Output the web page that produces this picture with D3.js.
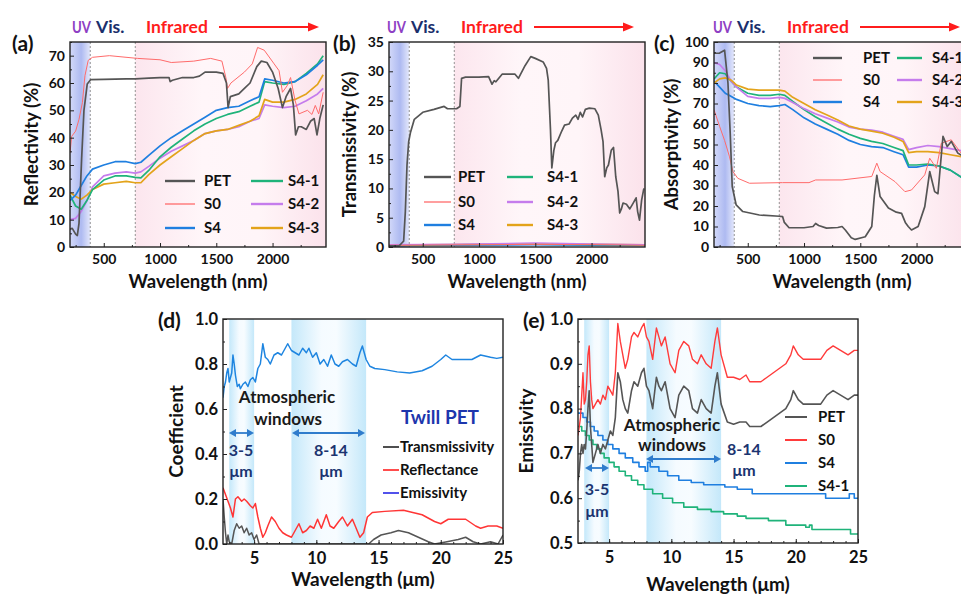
<!DOCTYPE html>
<html>
<head>
<meta charset="utf-8">
<script src="https://cdn.jsdelivr.net/npm/d3@7"></script>
<style>
  body { margin: 0; background: #fff; }
  svg { font-family: Lato, "Open Sans", sans-serif; font-weight: bold; }
</style>
</head>
<body>
<svg id="fig"></svg>
<script>
// ---- data: panels (a)-(c), wavelength in nm ----
const nmGrid = [200,250,300,350,400,500,600,700,780,830,900,1000,1100,1200,1300,1400,1500,1600,1700,1800,1880,1930,2000,2100,2200,2300,2400,2450];

const reflPET = [[200,6.5],[220,6.8],[250,4.7],[265,4.2],[280,8.6],[303,32],[324,50],[353,59.6],[383,61.2],[500,61.3],[700,61.5],[780,61.5],[900,61.8],[1000,62],[1080,62],[1090,60.5],[1110,61],[1200,62],[1300,62],[1350,62.5],[1400,64],[1500,64],[1560,63.5],[1590,60],[1605,51],[1625,55],[1700,56],[1750,58],[1800,60],[1860,66],[1900,68],[1950,67.5],[2000,64],[2050,58],[2088,51],[2120,55],[2160,58],[2185,52],[2205,41],[2230,44],[2255,44],[2300,43],[2337,46],[2370,47],[2395,41],[2420,47],[2450,52]];
const reflS0 = [[200,34.4],[215,40.5],[250,42.4],[280,46.7],[310,52.8],[333,62.7],[362,68.3],[400,69.4],[550,70],[800,69],[1000,68.5],[1100,67.5],[1300,68],[1450,69],[1550,68],[1585,62],[1600,58],[1630,60],[1750,64],[1820,67],[1867,73],[1926,72],[2014,67],[2058,64.5],[2088,56.6],[2130,59],[2160,62],[2200,53.6],[2235,48.7],[2310,50],[2350,48.5],[2380,51.8],[2410,48.7],[2450,56.6]];
const reflS4 = [17,19,22.5,26,28.5,30,31.2,31.2,30.5,31,33.5,37,40,42.5,45,47.5,50,51,51.5,53.5,55,61.5,61,60,60.5,63,66.5,68.5];
const reflS41 = [19,15,13.8,17,21,24.5,26,26,25.5,25.3,28,33,36.5,39.5,42.5,45,47,48.5,49.5,51.5,53,60.5,60,59.5,60.5,63.5,67,70];
const reflS42 = [10,10.5,13,17,22,26,27,27.5,27,27.5,29.5,32.5,35,37,39,41.5,42.5,43,44,46,47,52,51.5,51,51.5,53.5,56,58];
const reflS43 = [20,18.5,17.5,19,21,23,23.5,24,23.5,23.5,26.5,30,33,36,39,41.5,42.5,43,44.5,46,48,54,53,53,54,56,59.5,63];

const transPET = [[200,0.2],[290,0.2],[310,0.6],[330,1],[345,6],[360,14],[375,18],[390,19.5],[425,21.8],[500,23],[600,23.5],[690,24],[720,23.6],[800,23.6],[830,24],[845,28.8],[880,29],[1000,29],[1085,29.1],[1115,27.8],[1135,28.4],[1150,28.2],[1205,29.5],[1320,29.5],[1350,28.8],[1410,31],[1460,32.5],[1500,32.2],[1570,31.6],[1600,30.5],[1615,28.5],[1635,20],[1647,13.5],[1665,16.5],[1680,17.8],[1700,18.2],[1735,19.8],[1760,20.8],[1800,21],[1830,22],[1860,22.5],[1880,21.8],[1900,23],[1920,22.2],[1945,23.5],[1980,23.7],[2030,23.6],[2060,22.5],[2085,20],[2102,18],[2117,12],[2135,13.5],[2150,14],[2175,16.5],[2195,17],[2215,12],[2235,9.5],[2250,5.8],[2265,6.5],[2280,7.5],[2310,7.3],[2340,6.5],[2370,7.5],[2396,8.4],[2410,6],[2426,4.6],[2445,8],[2465,10]];
const transS0 = [[200,0.3],[800,0.35],[1500,0.45],[2000,0.4],[2475,0.3]];
const transS4 = [[200,0.2],[800,0.3],[1500,0.35],[2000,0.3],[2475,0.25]];
const transS41 = [[200,0.3],[800,0.4],[1500,0.45],[2000,0.4],[2475,0.3]];
const transS42 = [[200,0.4],[800,0.5],[1500,0.7],[2000,0.55],[2475,0.4]];
const transS43 = [[200,0.35],[800,0.45],[1500,0.55],[2000,0.5],[2475,0.4]];

const absPET = [[200,94.5],[250,94.6],[294,96],[324,80],[344,55.5],[362,29.5],[397,20.5],[456,17.3],[603,15.6],[780,15],[810,14.8],[825,12],[867,9.4],[1000,9.4],[1080,10],[1103,11.5],[1130,10.5],[1200,9.2],[1300,9.5],[1338,10],[1367,8.3],[1420,4.5],[1455,3.7],[1544,5],[1602,10],[1625,25],[1647,35],[1676,24.6],[1750,19],[1820,17],[1867,16.4],[1900,12],[1926,10],[1955,8.3],[2014,10],[2073,19.7],[2117,36.8],[2161,27],[2190,26],[2235,54],[2273,49],[2308,51.5],[2367,45.8],[2450,43]];
const absS0 = [[200,67],[250,58.8],[294,52],[338,44],[368,36.8],[412,33.5],[515,31.1],[809,31.4],[1044,31.4],[1103,32.7],[1338,32.7],[1602,34.4],[1647,40.9],[1676,36.8],[1808,31.9],[1897,27],[1955,27.8],[2073,35.2],[2117,43.3],[2176,38.4],[2220,50.6],[2308,52.3],[2396,45.8],[2450,43]];
const absS4 = [81,78,75,73.5,72,70,69,68.5,69,69.5,67,63,60,57.5,55,52,50,49,48.5,46.5,45,39,39,40,39.5,37.5,34,31];
const absS41 = [82,85,84.5,81,78,75,74,74,74.5,74,71,67,63.5,60.5,57.5,55,53,51.5,50.5,48.5,47,40,40,40.5,39.5,37.5,34,30];
const absS42 = [90,89,86,81,78,73.5,72.5,72.5,73,72.5,70.5,67.5,65,63,61,58.5,57.5,57,56,54,52.5,47.5,48.5,49.5,49,48,47,46];
const absS43 = [80,82,82.5,81.5,79,77,76.5,76.5,76.5,76,73,70,67,64.5,62,59,57.5,56.5,55.5,53.5,51.5,46,46.5,46.5,46,45,44,42];

// ---- data: panel (d), wavelength in um ----
const twillEmis = [[2.5,0.65],[2.6,0.70],[2.7,0.72],[2.8,0.76],[2.9,0.78],[3.0,0.72],[3.1,0.74],[3.2,0.76],[3.3,0.84],[3.4,0.80],[3.5,0.75],[3.65,0.70],[3.8,0.71],[3.9,0.69],[4.1,0.71],[4.3,0.72],[4.5,0.70],[4.7,0.73],[4.9,0.74],[5.1,0.72],[5.3,0.78],[5.5,0.80],[5.7,0.89],[5.9,0.83],[6.1,0.82],[6.3,0.80],[6.6,0.84],[6.9,0.85],[7.2,0.84],[7.5,0.87],[7.7,0.89],[8.0,0.86],[8.3,0.85],[8.6,0.84],[8.9,0.87],[9.2,0.85],[9.4,0.87],[9.7,0.83],[10.0,0.85],[10.3,0.80],[10.6,0.82],[10.9,0.79],[11.2,0.84],[11.5,0.80],[11.8,0.79],[12.1,0.81],[12.5,0.82],[12.9,0.80],[13.2,0.79],[13.5,0.85],[13.7,0.88],[14.0,0.82],[14.3,0.79],[14.7,0.78],[15.5,0.775],[16.5,0.765],[17.5,0.76],[18.5,0.77],[19.3,0.79],[20.0,0.82],[20.4,0.84],[20.9,0.82],[22.5,0.82],[23.2,0.84],[24.0,0.83],[24.5,0.825],[25,0.83]];
const twillRefl = [[2.5,0.25],[2.7,0.22],[2.9,0.19],[3.1,0.16],[3.3,0.12],[3.5,0.20],[3.7,0.21],[4.0,0.19],[4.2,0.20],[4.4,0.19],[4.7,0.17],[4.9,0.16],[5.1,0.18],[5.3,0.12],[5.5,0.07],[5.7,0.03],[5.9,0.05],[6.1,0.08],[6.4,0.12],[6.7,0.10],[7.0,0.07],[7.3,0.05],[7.6,0.04],[8.0,0.03],[8.3,0.06],[8.6,0.09],[8.9,0.05],[9.2,0.06],[9.5,0.08],[9.8,0.07],[10.1,0.11],[10.4,0.07],[10.8,0.13],[11.1,0.08],[11.4,0.07],[11.8,0.10],[12.1,0.12],[12.5,0.08],[12.9,0.11],[13.2,0.07],[13.5,0.03],[13.8,0.05],[14.1,0.12],[14.5,0.14],[15.5,0.145],[17.0,0.15],[18.5,0.13],[19.5,0.10],[20.0,0.09],[20.6,0.11],[22.0,0.11],[22.8,0.08],[23.2,0.07],[23.8,0.08],[24.5,0.08],[25,0.07]];
const twillTrans = [[2.5,0.20],[2.6,0.12],[2.7,0.05],[2.8,0.0],[2.9,0.04],[3.0,0.01],[3.2,0.0],[3.4,0.06],[3.6,0.09],[3.8,0.07],[4.0,0.08],[4.2,0.05],[4.4,0.07],[4.6,0.04],[4.8,0.05],[5.0,0.02],[5.2,0.04],[5.4,0.0],[14.2,0.0],[14.6,0.02],[15.2,0.04],[16.0,0.05],[16.6,0.06],[17.4,0.05],[18.2,0.03],[19.0,0.01],[19.5,0.0],[20.5,0.01],[21.4,0.02],[22.0,0.03],[22.6,0.01],[23.2,0.0],[24.0,0.01],[24.6,0.0],[25,0.04]];

// ---- data: panel (e) ----
const emisPET = [[2.5,0.64],[2.6,0.66],[2.7,0.70],[2.8,0.72],[2.9,0.70],[3.0,0.72],[3.1,0.71],[3.2,0.75],[3.3,0.80],[3.4,0.84],[3.5,0.76],[3.6,0.72],[3.7,0.68],[3.9,0.70],[4.1,0.72],[4.3,0.70],[4.5,0.72],[4.7,0.71],[4.9,0.73],[5.1,0.75],[5.3,0.74],[5.5,0.78],[5.7,0.88],[5.9,0.86],[6.1,0.82],[6.3,0.80],[6.5,0.79],[6.8,0.84],[7.0,0.86],[7.3,0.85],[7.6,0.88],[7.8,0.89],[8.0,0.85],[8.2,0.84],[8.5,0.80],[8.8,0.87],[9.0,0.85],[9.2,0.84],[9.5,0.86],[9.9,0.80],[10.3,0.78],[10.6,0.83],[11.0,0.85],[11.4,0.84],[11.7,0.80],[12.1,0.79],[12.4,0.82],[12.8,0.80],[13.2,0.79],[13.5,0.85],[13.7,0.88],[14.0,0.81],[14.5,0.77],[15.0,0.765],[15.5,0.77],[16.0,0.77],[16.3,0.76],[17.2,0.76],[17.7,0.77],[18.2,0.78],[18.7,0.79],[19.2,0.80],[19.6,0.82],[19.8,0.84],[20.2,0.82],[20.6,0.81],[22.0,0.81],[22.5,0.83],[23.0,0.84],[23.6,0.83],[24.2,0.82],[24.7,0.83],[25,0.83]];
const emisS0 = [[2.5,0.74],[2.6,0.76],[2.7,0.78],[2.8,0.83],[2.9,0.88],[3.0,0.81],[3.1,0.82],[3.2,0.86],[3.3,0.92],[3.4,0.94],[3.5,0.86],[3.6,0.82],[3.7,0.80],[3.9,0.81],[4.1,0.82],[4.3,0.81],[4.5,0.83],[4.7,0.82],[4.9,0.85],[5.1,0.84],[5.3,0.83],[5.5,0.88],[5.7,0.99],[5.9,0.95],[6.1,0.92],[6.3,0.89],[6.5,0.91],[6.8,0.96],[7.0,0.97],[7.3,0.96],[7.6,0.98],[7.8,0.99],[8.0,0.96],[8.2,0.95],[8.5,0.91],[8.8,0.98],[9.0,0.96],[9.2,0.94],[9.5,0.96],[9.9,0.90],[10.3,0.88],[10.6,0.93],[11.0,0.95],[11.4,0.94],[11.7,0.91],[12.1,0.90],[12.4,0.92],[12.8,0.90],[13.2,0.89],[13.5,0.95],[13.7,0.98],[14.0,0.92],[14.5,0.87],[15.0,0.87],[15.5,0.865],[16.0,0.875],[16.3,0.86],[17.2,0.86],[17.7,0.87],[18.2,0.88],[18.7,0.89],[19.2,0.90],[19.6,0.92],[19.8,0.94],[20.2,0.92],[20.6,0.91],[22.0,0.91],[22.5,0.93],[23.0,0.94],[23.6,0.93],[24.2,0.92],[24.7,0.93],[25,0.93]];
const emisS4 = [[2.5,0.79],[2.9,0.78],[3.2,0.77],[3.5,0.76],[3.8,0.75],[4.1,0.74],[4.5,0.73],[4.9,0.72],[5.3,0.71],[5.8,0.70],[6.3,0.69],[6.9,0.68],[7.4,0.67],[7.9,0.66],[8.1,0.68],[8.3,0.67],[9.0,0.66],[9.7,0.65],[10.6,0.64],[11.6,0.635],[12.6,0.63],[14.3,0.625],[15.3,0.62],[16.5,0.61],[22.4,0.60],[24.3,0.61],[24.7,0.60],[25,0.60]];
const emisS41 = [[2.5,0.76],[2.8,0.75],[3.1,0.74],[3.4,0.73],[3.7,0.72],[4.0,0.71],[4.3,0.70],[4.6,0.69],[5.0,0.68],[5.4,0.67],[5.8,0.66],[6.3,0.65],[6.8,0.64],[7.3,0.63],[7.8,0.62],[8.5,0.61],[9.3,0.60],[10.1,0.59],[11.0,0.58],[12.1,0.575],[13.2,0.57],[14.2,0.565],[15.3,0.56],[16.0,0.555],[17.8,0.55],[19.2,0.54],[20.8,0.535],[21.1,0.54],[21.3,0.53],[24.4,0.52],[25,0.52]];

const sampleNames = ["PET", "S0", "S4", "S4-1", "S4-2", "S4-3"];
const sampleColors = ["#555555", "#ff6b6b", "#1f7fe0", "#1fb37a", "#c57cec", "#e3a31a"];
const nmTicks = [500, 1000, 1500, 2000];
const umTicks = [5, 10, 15, 20, 25];

// ---- drawing ----
const svg = d3.select("#fig").attr("width", 961).attr("height", 594);
const defs = svg.append("defs");

function gradient(id, stops) {
  const lg = defs.append("linearGradient").attr("id", id)
    .attr("x1", "0%").attr("x2", "100%").attr("y1", "0%").attr("y2", "0%");
  stops.forEach(s => lg.append("stop").attr("offset", s[0]).attr("stop-color", s[1]));
}
gradient("uvGrad", [["0%", "#d3d9f9"], ["55%", "#aebaf1"], ["100%", "#e4e8fb"]]);
gradient("irGrad", [["0%", "#fce6ee"], ["35%", "#fff6f9"], ["65%", "#fff5f8"], ["100%", "#fbe2eb"]]);
gradient("winGrad", [["0%", "#c4e8fa"], ["40%", "#f5fbff"], ["60%", "#f7fcff"], ["100%", "#c4e8fa"]]);

const pair = ys => nmGrid.map((v, i) => [v, ys[i]]);

function drawPanel(p) {
  const [L, R, T, B] = p.box;
  const x = d3.scaleLinear().domain(p.xDomain).range([L, R]);
  const y = d3.scaleLinear().domain(p.yDomain).range([B, T]);
  const g = svg.append("g");

  defs.append("clipPath").attr("id", "clip-" + p.id)
    .append("rect").attr("x", L).attr("y", T).attr("width", R - L).attr("height", B - T);
  const plot = g.append("g").attr("clip-path", `url(#clip-${p.id})`);

  p.bands.forEach(b => {
    plot.append("rect")
      .attr("x", x(b[0])).attr("y", T)
      .attr("width", x(b[1]) - x(b[0])).attr("height", B - T)
      .attr("fill", `url(#${b[2]})`);
  });
  (p.dashes || []).forEach(v => {
    plot.append("line")
      .attr("x1", x(v)).attr("x2", x(v)).attr("y1", T).attr("y2", B)
      .attr("stroke", "#888").attr("stroke-width", 0.9).attr("stroke-dasharray", "2,2");
  });
  p.series.forEach(s => {
    const line = d3.line()
      .x(d => x(d[0])).y(d => y(d[1]))
      .curve(s.step ? d3.curveStepAfter : d3.curveLinear);
    plot.append("path").datum(s.data)
      .attr("d", line)
      .attr("fill", "none")
      .attr("stroke", s.color)
      .attr("stroke-width", s.width || 1.7)
      .attr("stroke-linejoin", "round");
  });

  const axes = [
    g.append("g").attr("transform", `translate(0,${B})`)
      .call(d3.axisBottom(x).tickValues(p.xTicks).tickSize(-4).tickPadding(p.xPad).tickFormat(d3.format("d"))),
    g.append("g").attr("transform", `translate(0,${B})`)
      .call(d3.axisBottom(x).tickValues(p.xMinor).tickSize(-2).tickFormat("")),
    g.append("g").attr("transform", `translate(${L},0)`)
      .call(d3.axisLeft(y).tickValues(p.yTicks).tickSize(-4).tickPadding(5).tickFormat(p.yFmt)),
    g.append("g").attr("transform", `translate(${L},0)`)
      .call(d3.axisLeft(y).tickValues(p.yMinor).tickSize(-2).tickFormat(""))
  ];
  axes.forEach(a => {
    a.select(".domain").remove();
    a.attr("font-family", null).attr("font-size", null);
    a.selectAll("line").attr("stroke", "#222").attr("stroke-width", 1);
    a.selectAll("text").attr("font-size", p.tickFont).attr("fill", "#111");
  });

  g.append("rect")
    .attr("x", L).attr("y", T).attr("width", R - L).attr("height", B - T)
    .attr("fill", "none").attr("stroke", "#222").attr("stroke-width", 1.4);

  g.append("text")
    .attr("x", (L + R) / 2).attr("y", p.xTitleY)
    .attr("text-anchor", "middle").attr("font-size", p.titleFont).attr("fill", "#111")
    .text(p.xTitle);
  g.append("text")
    .attr("transform", `translate(${p.yTitleX},${(T + B) / 2}) rotate(-90)`)
    .attr("text-anchor", "middle").attr("dy", "0.35em")
    .attr("font-size", p.titleFont).attr("fill", "#111")
    .text(p.yTitle);
  g.append("text")
    .attr("x", p.label[0]).attr("y", p.label[1])
    .attr("font-size", 21).attr("fill", "#111")
    .text(p.label[2]);
  return { x, y, g };
}

function legend(entries) {
  entries.forEach(e => {
    svg.append("line")
      .attr("x1", e.x1).attr("x2", e.x2).attr("y1", e.y).attr("y2", e.y)
      .attr("stroke", e.color).attr("stroke-width", e.width || 2);
    svg.append("text")
      .attr("x", e.tx).attr("y", e.y + 5)
      .attr("font-size", e.size || 15).attr("fill", "#111")
      .text(e.name);
  });
}

function sixLegend(col1, col2, rows) {
  const out = [];
  sampleNames.forEach((n, i) => {
    const c = i < 3 ? col1 : col2;
    out.push({ name: n, color: sampleColors[i], width: i === 1 ? 1.3 : 2.4,
      x1: c[0], x2: c[1], tx: c[2], y: rows[i % 3] });
  });
  legend(out);
}

function spectrumHeader(x0) {
  svg.append("text").attr("x", x0).attr("y", 33).attr("font-size", 17.5)
    .attr("fill", "#8e3fc4").attr("textLength", 19).attr("lengthAdjust", "spacingAndGlyphs").text("UV");
  svg.append("text").attr("x", x0 + 24).attr("y", 33).attr("font-size", 17.5)
    .attr("fill", "#1b2f6c").text("Vis.");
  svg.append("text").attr("x", x0 + 74).attr("y", 33).attr("font-size", 17.5)
    .attr("fill", "#ff1c1c").text("Infrared");
  svg.append("line").attr("x1", x0 + 147).attr("x2", x0 + 238).attr("y1", 27).attr("y2", 27)
    .attr("stroke", "#ff1c1c").attr("stroke-width", 2);
  svg.append("path").attr("d", `M${x0 + 247},27 L${x0 + 236},22.5 L${x0 + 236},31.5 Z`).attr("fill", "#ff1c1c");
}

function doubleArrow(x1, x2, y, color) {
  svg.append("line").attr("x1", x1 + 4).attr("x2", x2 - 4).attr("y1", y).attr("y2", y)
    .attr("stroke", color).attr("stroke-width", 1.8);
  svg.append("path").attr("d", `M${x1},${y} L${x1 + 7},${y - 4} L${x1 + 7},${y + 4} Z`).attr("fill", color);
  svg.append("path").attr("d", `M${x2},${y} L${x2 - 7},${y - 4} L${x2 - 7},${y + 4} Z`).attr("fill", color);
}

function note(x, y, txt, size, color, anchor) {
  svg.append("text").attr("x", x).attr("y", y).attr("text-anchor", anchor || "middle")
    .attr("font-size", size).attr("fill", color).text(txt);
}

const nmCommon = {
  xDomain: [200, 2475], xTicks: nmTicks, xMinor: [250, 750, 1250, 1750, 2250],
  bands: [[200, 380, "uvGrad"], [780, 2475, "irGrad"]], dashes: [380, 780],
  tickFont: 14, titleFont: 18.5, xPad: 7, xTitleY: 288, xTitle: "Wavelength (nm)",
  yFmt: d3.format("d")
};

// (a)
drawPanel(Object.assign({}, nmCommon, {
  id: "a", box: [70, 326, 42, 247], yDomain: [0, 75],
  yTicks: d3.range(0, 71, 10), yMinor: d3.range(5, 76, 10),
  yTitle: "Reflectivity (%)", yTitleX: 32, label: [12, 51, "(a)"],
  series: [
    { data: pair(reflS42), color: sampleColors[4] },
    { data: pair(reflS43), color: sampleColors[5] },
    { data: pair(reflS41), color: sampleColors[3] },
    { data: pair(reflS4), color: sampleColors[2] },
    { data: reflS0, color: sampleColors[1], width: 1 },
    { data: reflPET, color: sampleColors[0] }
  ]
}));
sixLegend([165, 195, 204], [251, 283, 288], [181, 204, 228]);
spectrumHeader(72);

// (b)
drawPanel(Object.assign({}, nmCommon, {
  id: "b", box: [389, 645, 42, 247], yDomain: [0, 35],
  yTicks: d3.range(0, 36, 5), yMinor: d3.range(2.5, 35, 5),
  yTitle: "Transmissivity (%)", yTitleX: 350, label: [333, 51, "(b)"],
  series: [
    { data: transS4, color: sampleColors[2], width: 1.3 },
    { data: transS41, color: sampleColors[3], width: 1.3 },
    { data: transS43, color: sampleColors[5], width: 1.3 },
    { data: transS42, color: sampleColors[4], width: 1.3 },
    { data: transS0, color: sampleColors[1], width: 1 },
    { data: transPET, color: sampleColors[0] }
  ]
}));
sixLegend([424, 451, 458], [507, 533, 547], [177, 202, 225]);
spectrumHeader(387);

// (c)
drawPanel(Object.assign({}, nmCommon, {
  id: "c", box: [714, 970, 42, 247], yDomain: [0, 100],
  yTicks: d3.range(0, 101, 10), yMinor: d3.range(5, 100, 10),
  yTitle: "Absorptivity (%)", yTitleX: 672, label: [654, 51, "(c)"],
  series: [
    { data: pair(absS4), color: sampleColors[2] },
    { data: pair(absS41), color: sampleColors[3] },
    { data: pair(absS42), color: sampleColors[4] },
    { data: pair(absS43), color: sampleColors[5] },
    { data: absS0, color: sampleColors[1], width: 1 },
    { data: absPET, color: sampleColors[0] }
  ]
}));
sixLegend([813, 842, 863], [897, 922, 932], [58, 80, 102]);
spectrumHeader(713);

// (d)
const umCommon = {
  xDomain: [2.5, 25], xTicks: umTicks, xMinor: d3.range(3, 25, 1),
  bands: [[3, 5, "winGrad"], [8, 14, "winGrad"]],
  tickFont: 16.5, titleFont: 19, xPad: 8, xTitle: "Wavelength (μm)",
  yFmt: d3.format(".1f")
};
drawPanel(Object.assign({}, umCommon, {
  id: "d", box: [223, 503, 319, 544], yDomain: [0, 1],
  yTicks: d3.range(0, 1.01, 0.2), yMinor: d3.range(0.1, 1, 0.2),
  xTitleY: 586, yTitle: "Coefficient", yTitleX: 176, label: [158, 328, "(d)"],
  series: [
    { data: twillTrans, color: "#555555", width: 1.5 },
    { data: twillRefl, color: "#ff3535", width: 1.5 },
    { data: twillEmis, color: "#1e85e0", width: 1.5 }
  ]
}));
legend([
  { name: "Transmissivity", color: "#222", x1: 383, x2: 399, tx: 400, y: 447, width: 1.6 },
  { name: "Reflectance", color: "#ff2020", x1: 383, x2: 399, tx: 400, y: 470, width: 1.6 },
  { name: "Emissivity", color: "#2626e6", x1: 383, x2: 399, tx: 400, y: 493, width: 1.6 }
]);
note(287, 403, "Atmospheric", 17, "#1a1a1a");
note(288, 425, "windows", 17, "#1a1a1a");
doubleArrow(229, 254, 433, "#2f7ccc");
doubleArrow(292, 365, 433, "#2f7ccc");
note(241, 456, "3-5", 16, "#1b3470");
note(241, 477, "μm", 16, "#1b3470");
note(331, 456, "8-14", 16, "#1b3470");
note(331, 477, "μm", 16, "#1b3470");
note(440, 424, "Twill PET", 19, "#1d36ad");

// (e)
drawPanel(Object.assign({}, umCommon, {
  id: "e", box: [578, 858, 319, 543], yDomain: [0.5, 1],
  yTicks: d3.range(0.5, 1.01, 0.1), yMinor: d3.range(0.55, 1, 0.1),
  xTitleY: 591, yTitle: "Emissivity", yTitleX: 526, label: [523, 328, "(e)"],
  series: [
    { data: emisS41, color: sampleColors[3], width: 1.6, step: true },
    { data: emisS4, color: sampleColors[2], width: 1.6, step: true },
    { data: emisPET, color: "#555555", width: 1.6 },
    { data: emisS0, color: "#ff3b3b", width: 1.4 }
  ]
}));
legend([
  { name: "PET", color: "#555555", x1: 785, x2: 807, tx: 818, y: 417 },
  { name: "S0", color: "#ff3b3b", x1: 785, x2: 807, tx: 818, y: 440 },
  { name: "S4", color: sampleColors[2], x1: 785, x2: 807, tx: 818, y: 463 },
  { name: "S4-1", color: sampleColors[3], x1: 785, x2: 807, tx: 818, y: 486 }
]);
note(672, 431, "Atmospheric", 17, "#1a1a1a");
note(672, 451, "windows", 17, "#1a1a1a");
doubleArrow(585, 609, 468, "#2f7ccc");
doubleArrow(646, 721, 459, "#2f7ccc");
note(597, 495, "3-5", 16, "#1b3470");
note(597, 517, "μm", 16, "#1b3470");
note(744, 455, "8-14", 16, "#1b3470");
note(744, 476, "μm", 16, "#1b3470");
</script>
</body>
</html>
